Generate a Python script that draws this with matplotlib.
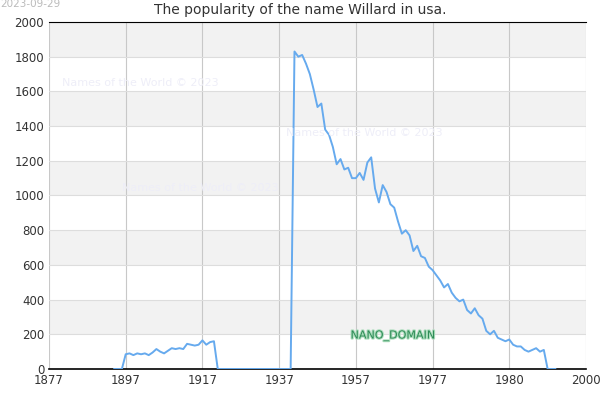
import matplotlib
matplotlib.use("Agg")
import matplotlib.pyplot as plt
import matplotlib.patheffects as pe

tick_labels = ["1877", "1897", "1917", "1937", "1957", "1977", "1980", "2000"]
early_vals = [0, 0, 0, 85, 90, 80, 90, 85, 90, 80, 95, 115, 100, 90, 105, 120, 115, 120, 115, 145, 140, 135, 140, 165, 140, 155, 160, 0]
gap_vals = [0] * 19
late_vals = [1830, 1800, 1810, 1760, 1700, 1610, 1510, 1530, 1380, 1350, 1280, 1180, 1210, 1150, 1160,
             1100, 1100, 1130, 1090, 1190, 1220, 1040, 960, 1060, 1020, 950, 930, 850, 780, 800, 770,
             680, 710, 650, 640, 590, 570, 540, 510, 470, 490, 440, 410, 390, 400, 340, 320, 350, 310,
             290, 220, 200, 220, 180, 170, 160, 170, 140, 130, 130, 110, 100, 110, 120, 100, 110, 0, 0, 0]
values = early_vals + gap_vals + late_vals
xs = [17 + i for i in range(len(values))]

fig = plt.figure(figsize=(6, 4), dpi=100)
ax = fig.add_axes([49/600, 1-369/400, (586-49)/600, (369-22)/400])
for k in range(10):
    if k % 2 == 1:
        ax.axhspan(k*200, (k+1)*200, color="#f2f2f2", zorder=0, lw=0)
ax.set_ylim(0, 2000)
ax.set_xlim(0, 140)
ax.set_yticks(range(0, 2001, 200))
ax.set_xticks(range(0, 141, 20))
ax.set_xticklabels(tick_labels)
ax.grid(axis="y", color="#dddddd", lw=0.8)
ax.grid(axis="x", color="#c8c8c8", lw=0.8)
ax.set_axisbelow(True)
ax.tick_params(length=0, labelsize=8.5, colors="#333333")
for s in ["top", "right", "left"]:
    ax.spines[s].set_visible(False)
ax.spines["bottom"].set_linewidth(1.2)
ax.spines["top"].set_visible(True)
ax.spines["top"].set_linewidth(0.8)
ax.plot(xs, values, color="#66aaee", lw=1.4, zorder=3)
fig.text(0.5, 1-10/400, "The popularity of the name Willard in usa.", ha="center", va="center", fontsize=10, color="#333333")
fig.text(0.0, 1-4/400, "2023-09-29", ha="left", va="center", fontsize=7.5, color="#bbbbbb")
for (px, py) in [(140, 83), (364, 133), (200, 188)]:
    fig.text(px/600, 1-py/400, "Names of the World © 2023", ha="center", va="center", fontsize=8, color="#eeeef8")
fig.text(393/600, 1-336/400, "NANO_DOMAIN", ha="center", va="center", fontsize=8, color="#2e8b57",
         path_effects=[pe.withStroke(linewidth=1.5, foreground="#aaddbb")])
fig.savefig("out.png")
